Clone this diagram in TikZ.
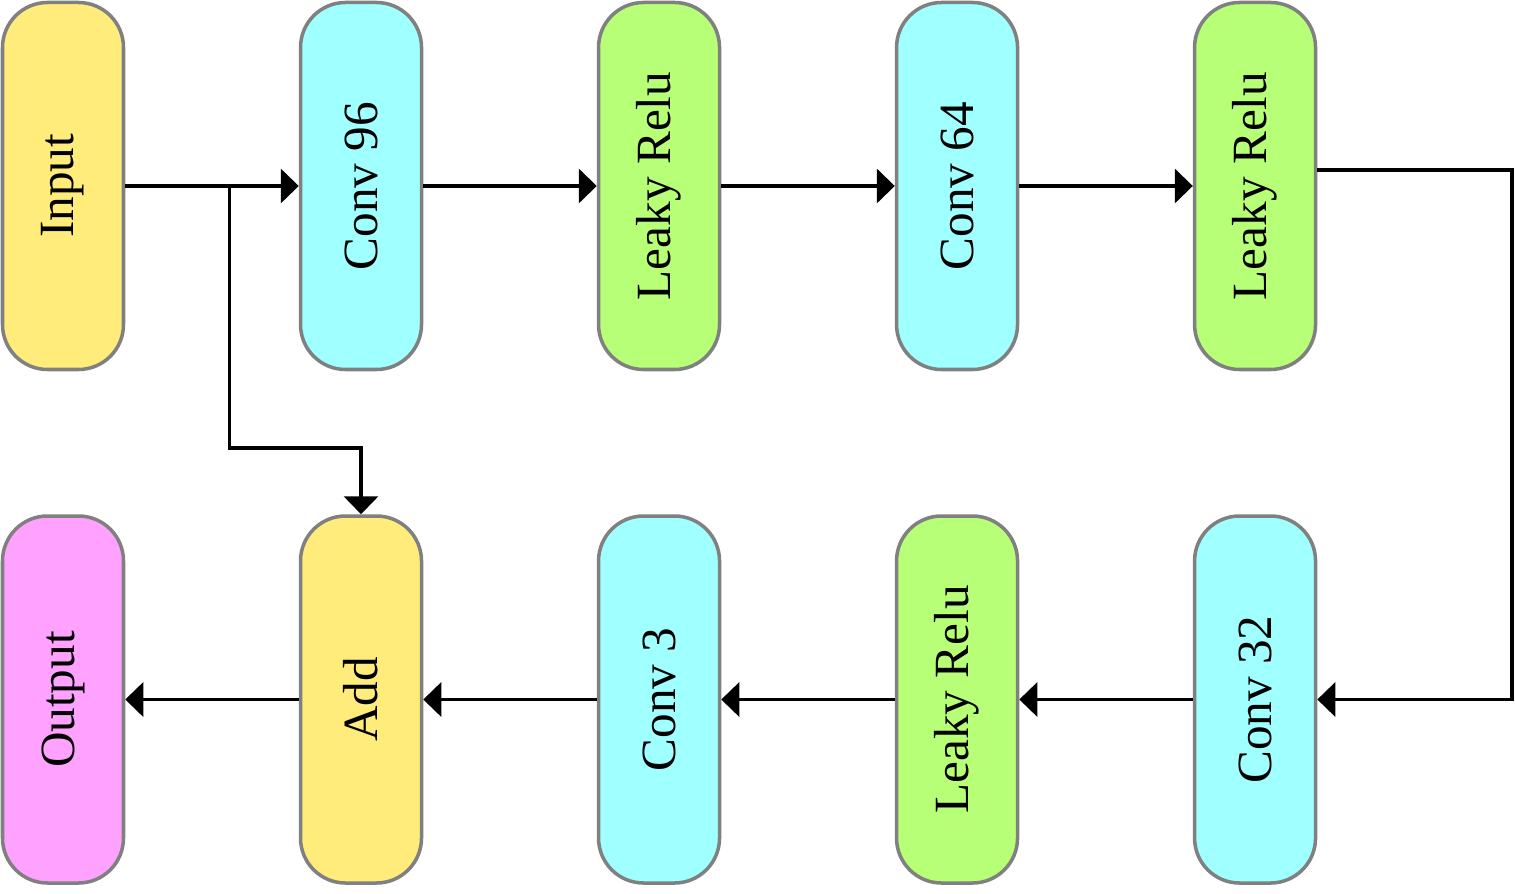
\documentclass[tikz,border=0pt]{standalone}
\usepackage{fontspec}
\setmainfont{Liberation Serif}
\usetikzlibrary{arrows.meta,positioning,calc}

\definecolor{addyellow}{HTML}{FFEC7A}
\definecolor{convcyan}{HTML}{A0FFFF}
\definecolor{relugreen}{HTML}{B8FF78}
\definecolor{outpink}{HTML}{FFA2FF}
\definecolor{edgegray}{HTML}{808080}

\begin{document}
\begin{tikzpicture}[
  font=\fontsize{28}{30}\selectfont,
  layer/.style={draw=edgegray, rounded corners=0.9cm, minimum width=2.42cm, minimum height=7.34cm, inner sep=0pt, line width=2pt},
  flow/.style={-{Triangle[length=0.36cm, width=0.68cm]}, line width=2pt},
  node distance=3.47cm and 3.47cm
]
\useasboundingbox (0,0) rectangle (30.3,-17.88);

% encoder row
\node[layer, fill=addyellow] at (1.26,-3.72) (in) {\rotatebox{90}{Input}};
\node[layer, fill=convcyan, right=of in] (c96) {\rotatebox{90}{Conv 96}};
\node[layer, fill=relugreen, right=of c96] (lr1) {\rotatebox{90}{Leaky Relu}};
\node[layer, fill=convcyan, right=of lr1] (c64) {\rotatebox{90}{Conv 64}};
\node[layer, fill=relugreen, right=of c64] (lr2) {\rotatebox{90}{Leaky Relu}};

% return row
\node[layer, fill=outpink, below=2.86cm of in] (out) {\rotatebox{90}{Output}};
\node[layer, fill=addyellow, below=2.86cm of c96] (add) {\rotatebox{90}{Add}};
\node[layer, fill=convcyan, below=2.86cm of lr1] (c3) {\rotatebox{90}{Conv 3}};
\node[layer, fill=relugreen, below=2.86cm of c64] (lr3) {\rotatebox{90}{Leaky Relu}};
\node[layer, fill=convcyan, below=2.86cm of lr2] (c32) {\rotatebox{90}{Conv 32}};

\coordinate (split) at ($(in.east)!0.6!(c96.west)$);
\coordinate (rturn) at (30.24,-3.4);

\draw[flow] (in) -- (c96);
\draw[flow] (c96) -- (lr1);
\draw[flow] (lr1) -- (c64);
\draw[flow] (c64) -- (lr2);
\draw[flow] (lr2.east |- rturn) -- (rturn) |- (c32.east);
\draw[flow] (c32) -- (lr3);
\draw[flow] (lr3) -- (c3);
\draw[flow] (c3) -- (add);
\draw[flow] (add) -- (out);
\draw[flow] (split) -- ++(0,-5.24) -| (add.north);
\end{tikzpicture}
\end{document}
